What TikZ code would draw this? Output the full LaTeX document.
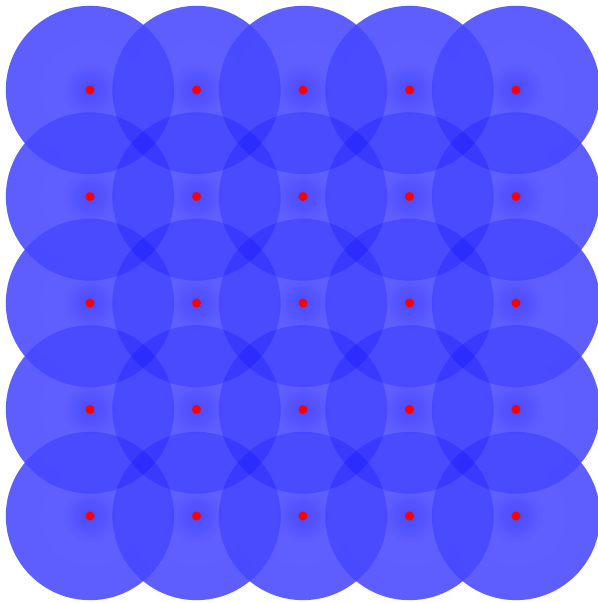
\documentclass[tikz,border=0pt]{standalone}
\usetikzlibrary{fadings}

\definecolor{diskbase}{RGB}{120,120,255}
\pgfdeclareradialshading{diskshade}{\pgfpoint{0bp}{0bp}}{color(0bp)=(black!80); color(30bp)=(black!78); color(42bp)=(black!66); color(47bp)=(black!78); color(50bp)=(black!96)}
\tikzfading[name=diskfade, shading=diskshade]
\tikzfading[name=halofade, inner color=transparent!78, outer color=transparent!100]

\begin{document}
\begin{tikzpicture}[
  sensor/.style={circle,fill=red,inner sep=0pt,minimum size=0.17cm},
  disk/.style={fill=diskbase},
  coverage/.style={fill=blue,path fading=diskfade},
  halo/.style={fill=blue,path fading=halofade}
]
  \useasboundingbox (-1.69,-1.634) rectangle (9.54,9.69);
  % opaque base
  \foreach \i in {0,...,4}
    \foreach \j in {0,...,4}
      \fill[disk] (2*\i,2*\j) circle (1.58);
  % overlapping coverage
  \foreach \i in {0,...,4}
    \foreach \j in {0,...,4}
      \fill[coverage] (2*\i,2*\j) circle (1.58);
  % sensors
  \foreach \i in {0,...,4}
    \foreach \j in {0,...,4} {
      \fill[halo] (2*\i,2*\j) circle (0.5);
      \node[sensor] (s\i\j) at (2*\i,2*\j) {};
    }
\end{tikzpicture}
\end{document}
